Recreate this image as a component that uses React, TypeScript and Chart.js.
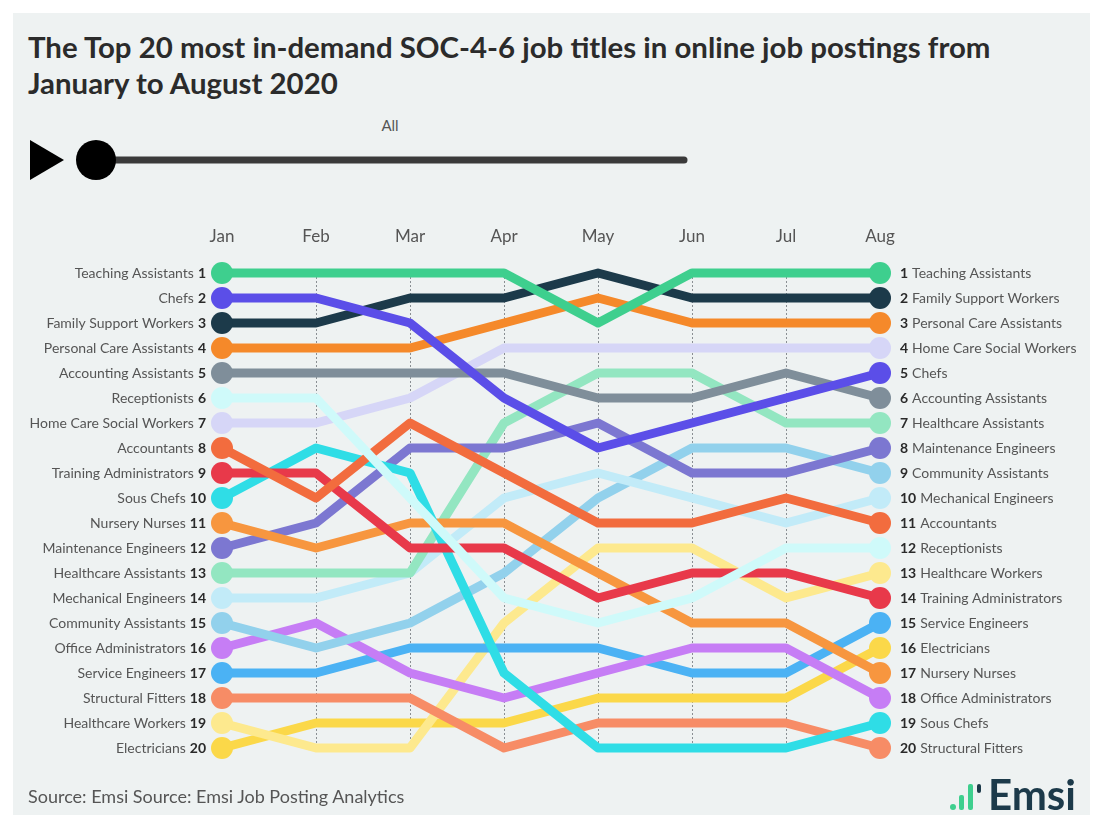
import React, { useEffect, useRef } from "react";
import { Chart, registerables } from "chart.js";

Chart.register(...registerables);

const months = ["Jan", "Feb", "Mar", "Apr", "May", "Jun", "Jul", "Aug"];

const seriesNames = [
  "Teaching Assistants",
  "Chefs",
  "Family Support Workers",
  "Personal Care Assistants",
  "Accounting Assistants",
  "Receptionists",
  "Home Care Social Workers",
  "Accountants",
  "Training Administrators",
  "Sous Chefs",
  "Nursery Nurses",
  "Maintenance Engineers",
  "Healthcare Assistants",
  "Mechanical Engineers",
  "Community Assistants",
  "Office Administrators",
  "Service Engineers",
  "Structural Fitters",
  "Healthcare Workers",
  "Electricians",
];

const teachingAssistants = [1, 1, 1, 1, 3, 1, 1, 1];
const chefs = [2, 2, 3, 6, 8, 7, 6, 5];
const familySupportWorkers = [3, 3, 2, 2, 1, 2, 2, 2];
const personalCareAssistants = [4, 4, 4, 3, 2, 3, 3, 3];
const accountingAssistants = [5, 5, 5, 5, 6, 6, 5, 6];
const receptionists = [6, 6, 10, 14, 15, 14, 12, 12];
const homeCareSocialWorkers = [7, 7, 6, 4, 4, 4, 4, 4];
const accountants = [8, 10, 7, 9, 11, 11, 10, 11];
const trainingAdministrators = [9, 9, 12, 12, 14, 13, 13, 14];
const sousChefs = [10, 8, 9, 17, 20, 20, 20, 19];
const nurseryNurses = [11, 12, 11, 11, 13, 15, 15, 17];
const maintenanceEngineers = [12, 11, 8, 8, 7, 9, 9, 8];
const healthcareAssistants = [13, 13, 13, 7, 5, 5, 7, 7];
const mechanicalEngineers = [14, 14, 13, 10, 9, 10, 11, 10];
const communityAssistants = [15, 16, 15, 13, 10, 8, 8, 9];
const officeAdministrators = [16, 15, 17, 18, 17, 16, 16, 18];
const serviceEngineers = [17, 17, 16, 16, 16, 17, 17, 15];
const structuralFitters = [18, 18, 18, 20, 19, 19, 19, 20];
const healthcareWorkers = [19, 20, 20, 15, 12, 12, 14, 13];
const electricians = [20, 19, 19, 19, 18, 18, 18, 16];

const seriesValues = [
  teachingAssistants,
  chefs,
  familySupportWorkers,
  personalCareAssistants,
  accountingAssistants,
  receptionists,
  homeCareSocialWorkers,
  accountants,
  trainingAdministrators,
  sousChefs,
  nurseryNurses,
  maintenanceEngineers,
  healthcareAssistants,
  mechanicalEngineers,
  communityAssistants,
  officeAdministrators,
  serviceEngineers,
  structuralFitters,
  healthcareWorkers,
  electricians,
];

const seriesColors = [
  "#3ecf8e",
  "#5b4ee8",
  "#1c3a4a",
  "#f5892a",
  "#7f8e9a",
  "#cffafa",
  "#d6d6f7",
  "#f26c3e",
  "#e8394a",
  "#2fdde6",
  "#f7963f",
  "#7c77d1",
  "#93e6c1",
  "#c2ebf8",
  "#92d1ec",
  "#c67df5",
  "#4bb2f4",
  "#f78c66",
  "#fde98e",
  "#fbd849",
];

const FONT = "Lato, 'Source Sans Pro', sans-serif";

const labelsPlugin = {
  id: "bumpLabels",
  beforeDatasetsDraw(chart: any) {
    const { ctx, scales } = chart;
    const x = scales.x;
    const y = scales.y;
    ctx.save();
    ctx.strokeStyle = "#8a8f93";
    ctx.lineWidth = 1;
    ctx.setLineDash([2, 2]);
    for (let i = 1; i < months.length - 1; i++) {
      const px = Math.round(x.getPixelForValue(i)) + 0.5;
      ctx.beginPath();
      ctx.moveTo(px, y.getPixelForValue(1));
      ctx.lineTo(px, y.getPixelForValue(19.8));
      ctx.stroke();
    }
    ctx.restore();
  },
  afterDraw(chart: any) {
    const { ctx, scales } = chart;
    const x = scales.x;
    const y = scales.y;
    ctx.save();
    ctx.font = `17px ${FONT}`;
    ctx.fillStyle = "#555";
    ctx.textAlign = "center";
    ctx.textBaseline = "middle";
    months.forEach((m, i) => {
      ctx.fillText(m, x.getPixelForValue(i), y.getPixelForValue(1) - 36);
    });
    const first = 0;
    const last = months.length - 1;
    const leftX = x.getPixelForValue(first) - 16;
    const rightX = x.getPixelForValue(last) + 20;
    seriesValues.forEach((vals, si) => {
      const rl = vals[first];
      const yl = y.getPixelForValue(rl);
      ctx.textBaseline = "middle";
      ctx.textAlign = "right";
      ctx.font = `bold 14px ${FONT}`;
      ctx.fillStyle = "#2a2a2a";
      const numL = String(rl);
      ctx.fillText(numL, leftX, yl);
      const wl = ctx.measureText(numL).width;
      ctx.font = `14px ${FONT}`;
      ctx.fillStyle = "#555";
      ctx.fillText(seriesNames[si], leftX - wl - 4, yl);
      const rr = vals[last];
      const yr = y.getPixelForValue(rr);
      ctx.textAlign = "left";
      ctx.font = `bold 14px ${FONT}`;
      ctx.fillStyle = "#2a2a2a";
      const numR = String(rr);
      ctx.fillText(numR, rightX, yr);
      const wr = ctx.measureText(numR).width;
      ctx.font = `14px ${FONT}`;
      ctx.fillStyle = "#555";
      ctx.fillText(seriesNames[si], rightX + wr + 4, yr);
    });
    ctx.restore();
  },
};

export default function App() {
  const canvasRef = useRef<HTMLCanvasElement | null>(null);

  useEffect(() => {
    const canvas = canvasRef.current;
    if (!canvas) return;
    const chart = new Chart(canvas, {
      type: "line",
      data: {
        labels: months,
        datasets: seriesValues.map((vals, i) => ({
          label: seriesNames[i],
          data: vals,
          borderColor: seriesColors[i],
          backgroundColor: seriesColors[i],
          borderWidth: 9,
          borderJoinStyle: "round" as const,
          borderCapStyle: "round" as const,
          tension: 0,
          fill: false,
          clip: false as any,
          pointRadius: (c: any) =>
            c.dataIndex === 0 || c.dataIndex === months.length - 1 ? 11 : 0,
          pointHoverRadius: 0,
          pointBorderWidth: 0,
          pointBackgroundColor: seriesColors[i],
        })),
      },
      options: {
        responsive: false,
        animation: false,
        devicePixelRatio: 1,
        layout: { padding: { left: 222, right: 225, top: 273, bottom: 77 } },
        plugins: { legend: { display: false }, tooltip: { enabled: false } },
        events: [],
        scales: {
          x: { type: "category", display: false, offset: false },
          y: { type: "linear", display: false, reverse: true, min: 1, max: 20 },
        },
      },
      plugins: [labelsPlugin],
    });
    return () => chart.destroy();
  }, []);

  return (
    <div
      style={{
        position: "absolute",
        left: 0,
        top: 0,
        width: 1105,
        height: 825,
        background: "#ffffff",
        overflow: "hidden",
        fontFamily: FONT,
      }}
    >
      <div
        style={{
          position: "absolute",
          left: 13,
          top: 13,
          width: 1077,
          height: 802,
          background: "#eef2f2",
        }}
      />
      <div
        style={{
          position: "absolute",
          left: 28,
          top: 29,
          width: 1060,
          fontSize: 29.4,
          fontWeight: 700,
          lineHeight: "36px",
          color: "#2b2b2b",
          whiteSpace: "nowrap",
        }}
      >
        The Top 20 most in-demand SOC-4-6 job titles in online job postings from
        <br />
        January to August 2020
      </div>
      <div
        style={{
          position: "absolute",
          left: 370,
          top: 116,
          width: 40,
          textAlign: "center",
          fontSize: 15,
          color: "#555",
        }}
      >
        All
      </div>
      <svg
        width={700}
        height={60}
        style={{ position: "absolute", left: 0, top: 130 }}
      >
        <polygon points="30,10 64,30 30,50" fill="#000" />
        <line
          x1={96}
          y1={30}
          x2={684}
          y2={30}
          stroke="#3a3a3a"
          strokeWidth={7}
          strokeLinecap="round"
        />
        <circle cx={96} cy={30} r={20} fill="#000" />
      </svg>
      <canvas
        ref={canvasRef}
        width={1105}
        height={825}
        style={{ position: "absolute", left: 0, top: 0, width: 1105, height: 825 }}
      />
      <div
        style={{
          position: "absolute",
          left: 28,
          top: 785,
          fontSize: 18,
          color: "#555",
        }}
      >
        Source: Emsi Source: Emsi Job Posting Analytics
      </div>
      <svg
        width={160}
        height={44}
        style={{ position: "absolute", left: 942, top: 776 }}
      >
        <circle cx={11} cy={31} r={3} fill="#3ecf8e" />
        <rect x={17} y={19} width={5} height={15} rx={2} fill="#3ecf8e" />
        <rect x={26} y={8} width={5} height={26} rx={2} fill="#3ecf8e" />
        <rect x={35} y={8} width={4} height={9} rx={2} fill="#1c3a4a" />
        <text
          x={46}
          y={34}
          fontFamily={FONT}
          fontWeight={700}
          fontSize={42}
          fill="#1c3a4a"
        >
          Emsi
        </text>
      </svg>
    </div>
  );
}
